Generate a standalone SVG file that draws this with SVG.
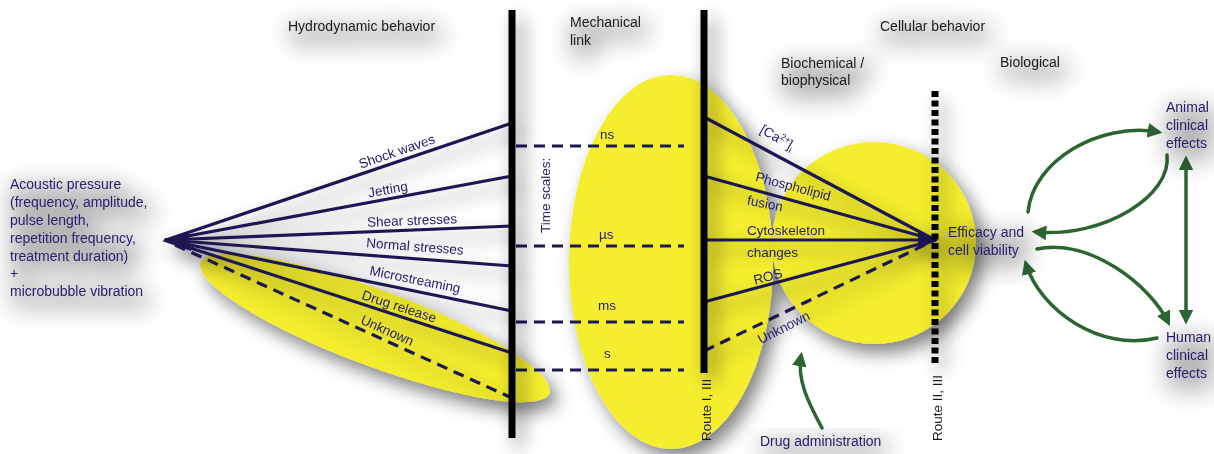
<svg xmlns="http://www.w3.org/2000/svg" width="1214" height="454" viewBox="0 0 1214 454">
<defs>
<style>
text{font-family:"Liberation Sans",Arial,sans-serif;font-size:13.5px}
.hd{fill:#1a1a1a;font-size:14px}
.nv{fill:#26206a}
.big{font-size:14px}
.ln{stroke:#1d1852;stroke-width:3.2;fill:none;stroke-linecap:round}
.dl{stroke:#1d1852;stroke-width:3.2;fill:none;stroke-dasharray:11 7}
.bar{stroke:#000;stroke-width:7;fill:none}
.yel{fill:#f4ee2e}
.ga{stroke:#2b6532;stroke-width:3.5;fill:none;stroke-linecap:round}
.tsh{filter:url(#tsh)}
.ssh{filter:url(#ssh)}
</style>
<filter id="ssh" x="-30%" y="-30%" width="160%" height="160%">
<feGaussianBlur in="SourceAlpha" stdDeviation="9" result="b"/>
<feOffset in="b" dx="7" dy="9" result="o"/>
<feFlood flood-color="#000" flood-opacity="0.5"/>
<feComposite in2="o" operator="in" result="s"/>
<feMerge><feMergeNode in="s"/><feMergeNode in="SourceGraphic"/></feMerge>
</filter>
<filter id="tsh" x="-50%" y="-80%" width="200%" height="260%">
<feMorphology in="SourceAlpha" operator="dilate" radius="4" result="d"/>
<feGaussianBlur in="d" stdDeviation="12" result="b"/>
<feOffset in="b" dx="4" dy="8" result="o"/>
<feFlood flood-color="#000" flood-opacity="0.3"/>
<feComposite in2="o" operator="in" result="s"/>
<feMerge><feMergeNode in="s"/><feMergeNode in="SourceGraphic"/></feMerge>
</filter>
<marker id="gah" viewBox="0 0 10 10" refX="7" refY="5" markerWidth="4.2" markerHeight="4.2" orient="auto-start-reverse">
<path d="M0,0 L10,5 L0,10 z" fill="#2b6532"/>
</marker>
</defs>
<rect width="1214" height="454" fill="#fff"/>

<!-- yellow regions -->
<g id="regions" class="ssh">
<ellipse id="ell-drug" class="yel" cx="375" cy="328" rx="186" ry="38" transform="rotate(20.5 375 328)"/>
<ellipse id="ell-mech" class="yel" cx="671" cy="262" rx="102" ry="187"/>
<ellipse id="ell-cell" class="yel" cx="874" cy="243" rx="102" ry="101"/>
</g>

<!-- headers -->
<g id="headers" class="tsh">
<text class="hd" x="288" y="31">Hydrodynamic behavior</text>
<text class="hd" x="570" y="27">Mechanical</text>
<text class="hd" x="570" y="45">link</text>
<text class="hd" x="880" y="31">Cellular behavior</text>
<text class="hd" x="781" y="68">Biochemical /</text>
<text class="hd" x="781" y="85">biophysical</text>
<text class="hd" x="1000" y="67">Biological</text>
</g>

<!-- connectors -->
<g id="connectors">
<g id="fan-left" class="ssh">
<polygon points="162,241 188,232 191,251" fill="#1d1852"/>
<line class="ln" x1="166" y1="240" x2="512" y2="123"/>
<line class="ln" x1="166" y1="240" x2="512" y2="176"/>
<line class="ln" x1="166" y1="240" x2="512" y2="226"/>
<line class="ln" x1="166" y1="240" x2="512" y2="266"/>
<line class="ln" x1="166" y1="240" x2="512" y2="311"/>
<line class="ln" x1="166" y1="240" x2="512" y2="353"/>
<line class="dl" x1="175" y1="245" x2="512" y2="398"/>
</g>
<g id="timescales">
<line class="dl" x1="516" y1="146" x2="684" y2="146"/>
<line class="dl" x1="516" y1="246" x2="684" y2="246"/>
<line class="dl" x1="516" y1="322" x2="684" y2="322"/>
<line class="dl" x1="516" y1="370" x2="684" y2="370"/>
</g>
<g id="fan-right" class="ssh">
<line class="ln" x1="704" y1="117" x2="935" y2="240"/>
<line class="ln" x1="704" y1="176" x2="935" y2="240"/>
<line class="ln" x1="704" y1="240" x2="935" y2="240"/>
<line class="ln" x1="704" y1="302" x2="935" y2="240"/>
<line class="dl" x1="704" y1="351" x2="935" y2="240"/>
<polygon points="938,240 918,232 918,249" fill="#1d1852"/>
</g>
<g id="green-arrows">
<path class="ga" d="M1028,212 C1033,160 1100,122 1158,132" marker-end="url(#gah)"/>
<path class="ga" d="M1167,155 C1172,195 1105,238 1036,232" marker-end="url(#gah)"/>
<path class="ga" d="M1037,249 C1090,238 1150,285 1168,322" marker-end="url(#gah)"/>
<path class="ga" d="M1157,338 C1100,352 1040,310 1026,264" marker-end="url(#gah)"/>
<line class="ga" x1="1186" y1="160" x2="1186" y2="320" marker-start="url(#gah)" marker-end="url(#gah)"/>
<path class="ga" d="M822,428 C808,402 797,380 801,356" marker-end="url(#gah)"/>
</g>
</g>

<!-- bars -->
<g id="bars" class="ssh">
<line id="bar-hydro" class="bar" x1="512" y1="10" x2="512" y2="438"/>
<line id="bar-route1" class="bar" x1="704" y1="10" x2="704" y2="373"/>
<line id="bar-route2" stroke="#000" stroke-width="7" stroke-dasharray="6 3.5" x1="935" y1="91" x2="935" y2="366"/>
</g>

<!-- source node -->
<g id="node-acoustic" class="tsh">
<text class="nv big" x="10" y="189">Acoustic pressure</text>
<text class="nv big" x="10" y="207">(frequency, amplitude,</text>
<text class="nv big" x="10" y="225">pulse length,</text>
<text class="nv big" x="10" y="243">repetition frequency,</text>
<text class="nv big" x="10" y="261">treatment duration)</text>
<text class="nv big" x="10" y="278">+</text>
<text class="nv big" x="10" y="296">microbubble vibration</text>
</g>

<!-- hydrodynamic labels -->
<g id="hydro-labels" class="nv" text-anchor="middle">
<text transform="translate(397,152) rotate(-19)" y="4">Shock waves</text>
<text transform="translate(388,190) rotate(-10)" y="4">Jetting</text>
<text transform="translate(412,221) rotate(-2.3)" y="4">Shear stresses</text>
<text transform="translate(415,247) rotate(4.3)" y="4">Normal stresses</text>
<text transform="translate(415,280) rotate(11.5)" y="4">Microstreaming</text>
<text transform="translate(399,307) rotate(18)" y="4">Drug release</text>
<text transform="translate(387,331) rotate(24)" y="4">Unknown</text>
</g>

<!-- time scale labels -->
<g id="time-labels" class="nv">
<text transform="translate(550,233) rotate(-90)">Time scales:</text>
<text x="600" y="139">ns</text>
<text x="599" y="239">µs</text>
<text x="598" y="310">ms</text>
<text x="604" y="358">s</text>
</g>

<!-- cellular labels -->
<g id="cell-labels" class="nv">
<text transform="translate(777,138) rotate(30)" text-anchor="middle" y="4">[Ca<tspan font-size="9" dy="-5">2+</tspan><tspan dy="5">]</tspan><tspan font-size="9" dy="3">i</tspan></text>
<text transform="translate(793,187) rotate(15)" text-anchor="middle" y="4">Phospholipid</text>
<text transform="translate(765,204) rotate(11)" text-anchor="middle" y="4">fusion</text>
<text x="747" y="235">Cytoskeleton</text>
<text x="747" y="257">changes</text>
<text transform="translate(768,277) rotate(-15)" text-anchor="middle" y="4">ROS</text>
<text transform="translate(784,328) rotate(-27)" text-anchor="middle" y="4">Unknown</text>
</g>

<!-- route labels -->
<g id="route-labels" class="hd">
<text transform="translate(711,441) rotate(-90)" style="font-size:13.5px">Route I, III</text>
<text transform="translate(942,441) rotate(-90)" style="font-size:13.5px">Route II, III</text>
</g>

<g id="node-efficacy" class="tsh">
<text class="nv big" x="948" y="237">Efficacy and</text>
<text class="nv big" x="948" y="255">cell viability</text>
</g>
<g id="node-animal" class="tsh">
<text class="nv big" x="1166" y="112">Animal</text>
<text class="nv big" x="1166" y="130">clinical</text>
<text class="nv big" x="1166" y="148">effects</text>
</g>
<g id="node-human" class="tsh">
<text class="nv big" x="1166" y="342">Human</text>
<text class="nv big" x="1166" y="360">clinical</text>
<text class="nv big" x="1166" y="378">effects</text>
</g>
<g id="node-drugadmin" class="tsh">
<text class="nv big" x="760" y="446">Drug administration</text>
</g>
</svg>
